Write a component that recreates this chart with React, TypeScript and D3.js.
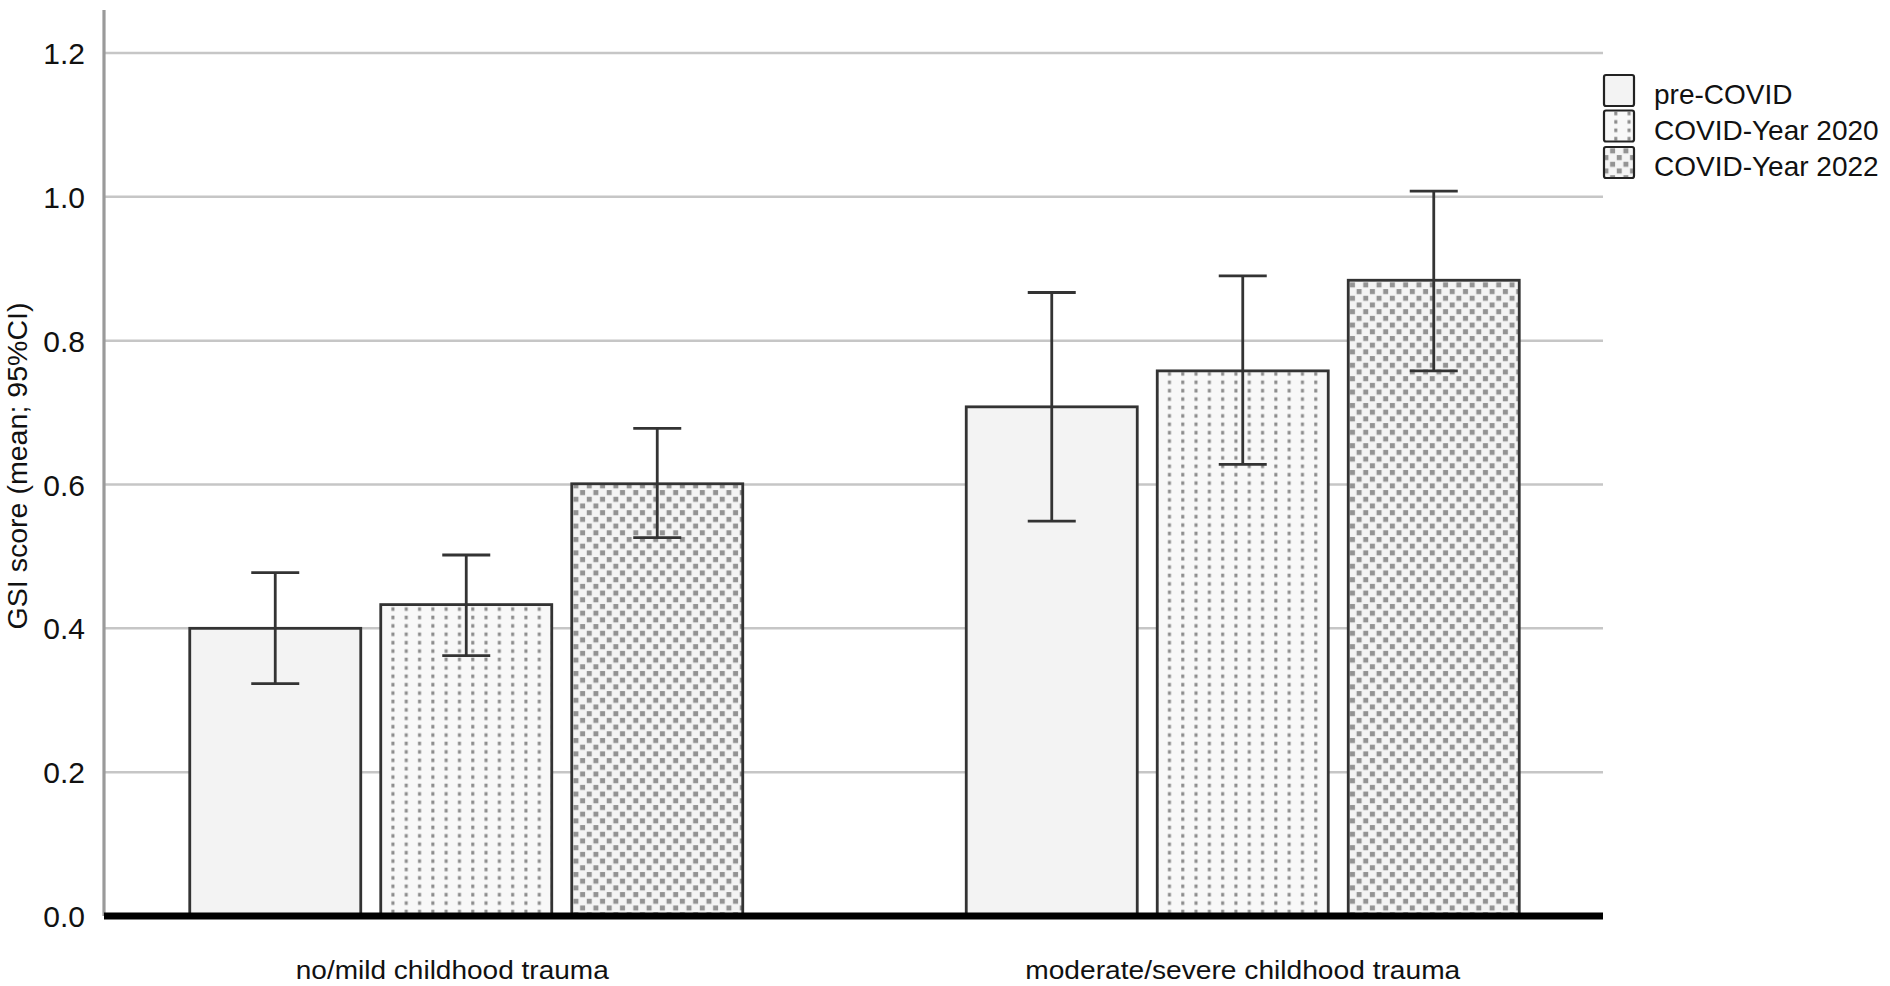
import { useEffect, useRef } from 'react';
import * as d3 from 'd3';

const groups = ['no/mild childhood trauma', 'moderate/severe childhood trauma'];
const series = ['pre-COVID', 'COVID-Year 2020', 'COVID-Year 2022'];
const means = [
  [0.4, 0.433, 0.601],
  [0.708, 0.758, 0.884],
];
const lower = [
  [0.323, 0.362, 0.526],
  [0.549, 0.628, 0.758],
];
const upper = [
  [0.4775, 0.502, 0.678],
  [0.867, 0.89, 1.008],
];
const yTicks = [0, 0.2, 0.4, 0.6, 0.8, 1.0, 1.2];
const yLabel = 'GSI score (mean; 95%CI)';

const FONT = '"Liberation Sans", Arial, sans-serif';

export default function App() {
  const svgRef = useRef(null);

  useEffect(() => {
    if (!svgRef.current) return;
    const width = 1890;
    const height = 986;
    const left = 104;
    const right = 1603;

    const svg = d3.select(svgRef.current);
    svg.selectAll('*').remove();
    svg.attr('width', width).attr('height', height);

    const defs = svg.append('defs');

    // sparse dots in columns for 2020
    const p1 = defs.append('pattern')
      .attr('id', 'dots2020')
      .attr('patternUnits', 'userSpaceOnUse')
      .attr('width', 13.3)
      .attr('height', 8.4);
    p1.append('rect').attr('width', 13.3).attr('height', 8.4).attr('fill', '#f8f8f8');
    p1.append('rect').attr('x', 5).attr('y', 2.5).attr('width', 3).attr('height', 3.6).attr('fill', '#8c8c8c');

    // offset dots for 2022
    const p2 = defs.append('pattern')
      .attr('id', 'dots2022')
      .attr('patternUnits', 'userSpaceOnUse')
      .attr('width', 13.3)
      .attr('height', 13.4);
    p2.append('rect').attr('width', 13.3).attr('height', 13.4).attr('fill', '#f4f4f4');
    p2.append('rect').attr('x', 0.8).attr('y', 1).attr('width', 5).attr('height', 5).attr('fill', '#939393');
    p2.append('rect').attr('x', 7.45).attr('y', 7.7).attr('width', 5).attr('height', 5).attr('fill', '#939393');

    const fills = ['#f3f3f3', 'url(#dots2020)', 'url(#dots2022)'];

    svg.append('rect').attr('width', width).attr('height', height).attr('fill', '#ffffff');

    const y = d3.scaleLinear().domain([0, 1.2]).range([916, 53]);

    const x0 = d3.scaleBand().domain(groups).range([78, 1631]).padding(0);
    const x1 = d3.scaleBand()
      .domain(series)
      .range([-276.5, 276.5])
      .paddingInner(20 / 191)
      .paddingOuter(0);

    // gridlines
    svg.append('g')
      .selectAll('line')
      .data(yTicks.filter(t => t > 0))
      .enter()
      .append('line')
      .attr('x1', left)
      .attr('x2', right)
      .attr('y1', d => y(d))
      .attr('y2', d => y(d))
      .attr('stroke', '#c6c6c6')
      .attr('stroke-width', 2.5);

    // y axis line
    svg.append('line')
      .attr('x1', left)
      .attr('x2', left)
      .attr('y1', 10)
      .attr('y2', y(0))
      .attr('stroke', '#9a9a9a')
      .attr('stroke-width', 3.2);

    // tick labels
    svg.append('g')
      .selectAll('text')
      .data(yTicks)
      .enter()
      .append('text')
      .attr('x', 85)
      .attr('y', d => y(d) + 11)
      .attr('text-anchor', 'end')
      .attr('font-family', FONT)
      .attr('font-size', 30)
      .attr('fill', '#111')
      .text(d => d3.format('.1f')(d));

    // y label
    svg.append('text')
      .attr('transform', `translate(27, 466) rotate(-90)`)
      .attr('text-anchor', 'middle')
      .attr('font-family', FONT)
      .attr('font-size', 27)
      .attr('fill', '#111')
      .attr('textLength', 327)
      .attr('lengthAdjust', 'spacingAndGlyphs')
      .text(yLabel);

    // bars
    const gGroups = svg.append('g')
      .selectAll('g')
      .data(groups)
      .enter()
      .append('g')
      .attr('transform', d => `translate(${x0(d)! + x0.bandwidth() / 2}, 0)`);

    gGroups.each(function (g, gi) {
      const sel = d3.select(this);
      series.forEach((s, si) => {
        const bx = x1(s)!;
        sel.append('rect')
          .attr('x', bx)
          .attr('y', y(means[gi][si]))
          .attr('width', x1.bandwidth())
          .attr('height', y(0) - y(means[gi][si]))
          .attr('fill', fills[si])
          .attr('stroke', '#333')
          .attr('stroke-width', 2.8);
      });
    });

    // error bars
    gGroups.each(function (g, gi) {
      const sel = d3.select(this);
      series.forEach((s, si) => {
        const cx = x1(s)! + x1.bandwidth() / 2;
        const cap = 24;
        const eb = sel.append('g')
          .attr('stroke', '#333')
          .attr('stroke-width', 2.8);
        eb.append('line')
          .attr('x1', cx).attr('x2', cx)
          .attr('y1', y(upper[gi][si])).attr('y2', y(lower[gi][si]));
        eb.append('line')
          .attr('x1', cx - cap).attr('x2', cx + cap)
          .attr('y1', y(upper[gi][si])).attr('y2', y(upper[gi][si]));
        eb.append('line')
          .attr('x1', cx - cap).attr('x2', cx + cap)
          .attr('y1', y(lower[gi][si])).attr('y2', y(lower[gi][si]));
      });
    });

    // baseline
    svg.append('line')
      .attr('x1', left)
      .attr('x2', right)
      .attr('y1', y(0))
      .attr('y2', y(0))
      .attr('stroke', '#000')
      .attr('stroke-width', 7);

    // category labels (first one sits a bit left of its group in the original)
    const labelShift = [-14, 0];
    svg.append('g')
      .selectAll('text')
      .data(groups)
      .enter()
      .append('text')
      .attr('x', (d, i) => x0(d)! + x0.bandwidth() / 2 + labelShift[i])
      .attr('y', 979)
      .attr('text-anchor', 'middle')
      .attr('font-family', FONT)
      .attr('font-size', 26)
      .attr('fill', '#111')
      .attr('textLength', (d, i) => (i === 0 ? 313 : 435))
      .attr('lengthAdjust', 'spacingAndGlyphs')
      .text(d => d);

    // legend
    const legend = svg.append('g');
    const legendY = [75, 110.5, 147];
    series.forEach((s, i) => {
      legend.append('rect')
        .attr('x', 1604)
        .attr('y', legendY[i])
        .attr('width', 30)
        .attr('height', 31)
        .attr('rx', 2)
        .attr('fill', fills[i])
        .attr('stroke', '#222')
        .attr('stroke-width', 2.2);
      legend.append('text')
        .attr('x', 1654)
        .attr('y', legendY[i] + 29)
        .attr('font-family', FONT)
        .attr('font-size', 28)
        .attr('fill', '#111')
        .text(s);
    });
  }, []);

  return (
    <div style={{ position: 'absolute', left: 0, top: 0, background: '#fff' }}>
      <svg ref={svgRef} style={{ display: 'block' }} />
    </div>
  );
}
